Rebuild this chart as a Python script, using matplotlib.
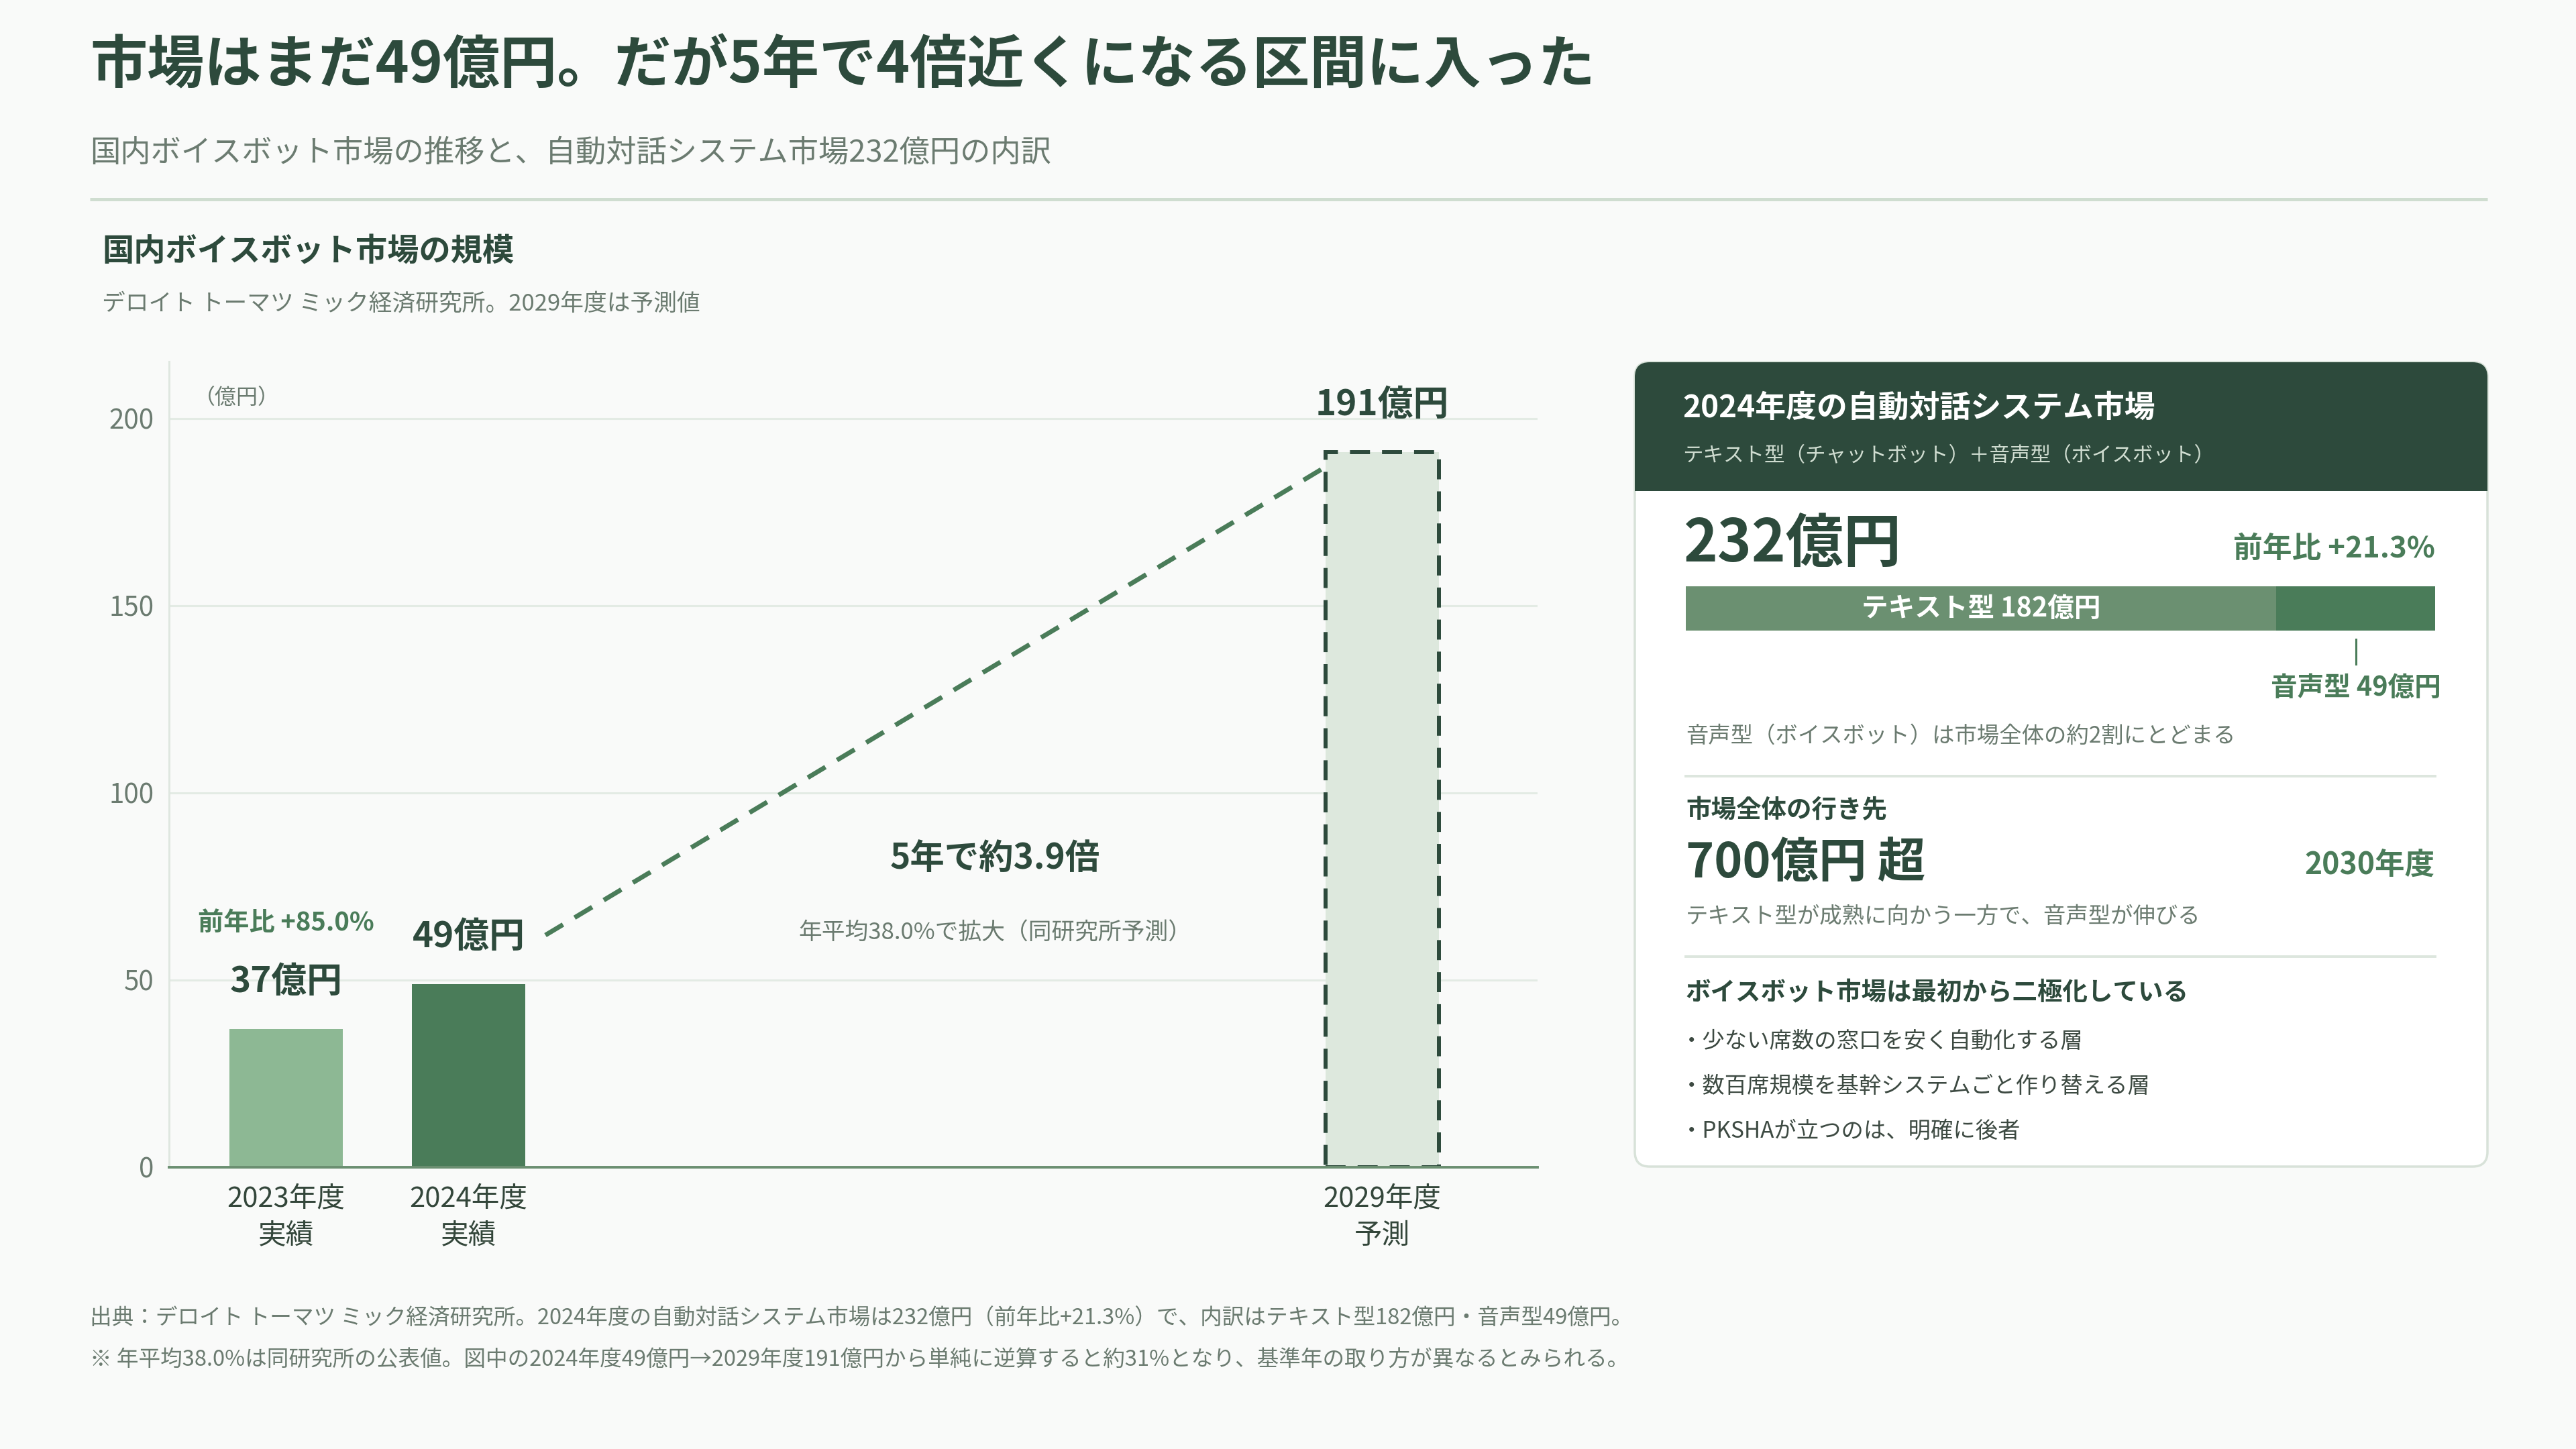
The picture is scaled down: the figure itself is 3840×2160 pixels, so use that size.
import matplotlib
matplotlib.use("Agg")
import matplotlib.pyplot as plt
from matplotlib.patches import FancyBboxPatch, Rectangle

plt.rcParams['font.family'] = ['Noto Sans CJK JP', 'DejaVu Sans']

# データ
years = [2023, 2024, 2029]
values = [37, 49, 191]
status = ['実績', '実績', '予測']
yoy_2024 = '+85.0%'
growth_label = '5年で約3.9倍'
cagr_label = '年平均38.0%で拡大（同研究所予測）'

text_bot = 182
voice_bot = 49
total_2024 = 232
total_yoy = '+21.3%'
future_total = 700
future_year = '2030年度'
bullets = ['・少ない席数の窓口を安く自動化する層',
           '・数百席規模を基幹システムごと作り替える層',
           '・PKSHAが立つのは、明確に後者']

# 色
DARK = '#2d4a3c'
GRAY = '#6b7b70'
GREEN = '#4a7c59'
LIGHT_GREEN = '#8db894'
PALE = '#dde8dd'
MID = '#6b9071'
BG = '#f9faf9'
BULLET = '#3d4a42'

W, H = 3840, 2160
fig = plt.figure(figsize=(W / 100, H / 100), dpi=100, facecolor=BG)

# ピクセル座標のオーバーレイ
ov = fig.add_axes([0, 0, 1, 1], zorder=0)
ov.set_xlim(0, W)
ov.set_ylim(H, 0)
ov.axis('off')
ov.patch.set_alpha(0)

ov.text(134, 98, '市場はまだ49億円。だが5年で4倍近くになる区間に入った',
        fontsize=61.3, fontweight='bold', color=DARK, va='center', ha='left')
ov.text(134, 228, '国内ボイスボット市場の推移と、自動対話システム市場232億円の内訳',
        fontsize=32.6, color=GRAY, va='center', ha='left')
ov.plot([134, 3708], [297, 297], color='#cfddd0', lw=3.6, solid_capstyle='butt')

ov.text(152, 376, '国内ボイスボット市場の規模', fontsize=34, fontweight='bold',
        color=DARK, va='center', ha='left')
ov.text(152, 453, 'デロイト トーマツ ミック経済研究所。2029年度は予測値',
        fontsize=25, color=GRAY, va='center', ha='left')

ov.text(134, 1966, '出典：デロイト トーマツ ミック経済研究所。2024年度の自動対話システム市場は232億円'
        '（前年比+21.3%）で、内訳はテキスト型182億円・音声型49億円。',
        fontsize=23.5, color=GRAY, va='center', ha='left')
ov.text(134, 2028, '※ 年平均38.0%は同研究所の公表値。図中の2024年度49億円→2029年度191億円から'
        '単純に逆算すると約31%となり、基準年の取り方が異なるとみられる。',
        fontsize=23.5, color=GRAY, va='center', ha='left')

# 棒グラフ
ax = fig.add_axes([252 / W, 1 - 1740 / H, 2040 / W, 1201 / H], zorder=2)
ax.patch.set_alpha(0)
bw = 0.62
ax.bar(years[:2], values[:2], width=bw, color=[LIGHT_GREEN, GREEN], zorder=3)
ax.bar(years[2], values[2], width=bw, color=PALE, edgecolor=DARK,
       linestyle=(0, (5, 3)), linewidth=4.3, zorder=3)

ax.set_xlim(2022.36, 2029.85)
ax.set_ylim(0, 215.2)
ax.set_yticks([0, 50, 100, 150, 200])
ax.set_xticks(years)
ax.set_xticklabels([f'{y}年度\n{s}' for y, s in zip(years, status)],
                   linespacing=1.45)
ax.tick_params(axis='y', length=0, pad=16, labelsize=29, labelcolor=GRAY)
ax.tick_params(axis='x', length=0, pad=19, labelsize=30, labelcolor='#33463a')
ax.grid(axis='y', color='#e3ebe4', lw=2.2)
ax.set_axisbelow(True)
for s in ['top', 'right']:
    ax.spines[s].set_visible(False)
ax.spines['left'].set_color('#dfe7e0')
ax.spines['left'].set_linewidth(2.2)
ax.spines['bottom'].set_color('#6b8f71')
ax.spines['bottom'].set_linewidth(2.8)
ax.spines['bottom'].set_zorder(4)

ax.text(0.018, 0.955, '（億円）', transform=ax.transAxes, fontsize=23,
        color=GRAY, va='center', ha='left')

for y, v in zip(years, values):
    ax.text(y, v + 12.6, f'{v}億円', fontsize=38, fontweight='bold',
            color=DARK, ha='center', va='center', zorder=5)
ax.text(years[0], values[0] + 28.4, f'前年比 {yoy_2024}', fontsize=27.5,
        fontweight='bold', color=GREEN, ha='center', va='center')

ax.plot([years[1] + 0.42, years[2] - 0.33], [values[1] + 13, values[2] - 4.5],
        color=GREEN, lw=5, linestyle=(0, (4.4, 2.9)), zorder=4)

ax.text(2026.88, 82.6, growth_label, fontsize=37, fontweight='bold',
        color=DARK, ha='center', va='center')
ax.text(2026.88, 62.5, cagr_label, fontsize=25, color=GRAY,
        ha='center', va='center')

# 右カード
cx0, cx1, cy0, cy1 = 2437, 3708, 540, 1739
card = FancyBboxPatch((cx0, cy0), cx1 - cx0, cy1 - cy0,
                      boxstyle='round,pad=0,rounding_size=22',
                      facecolor='white', edgecolor='#d8e2d9', lw=2.5, zorder=1)
ov.add_patch(card)
head = FancyBboxPatch((cx0, cy0), cx1 - cx0, 190,
                      boxstyle='round,pad=0,rounding_size=22',
                      facecolor=DARK, edgecolor='none', zorder=2)
ov.add_patch(head)
ov.add_patch(Rectangle((cx0, 680), cx1 - cx0, 52, facecolor=DARK,
                       edgecolor='none', zorder=2))

ov.text(2508, 609, '2024年度の自動対話システム市場', fontsize=33, fontweight='bold',
        color='white', va='center', ha='left', zorder=3)
ov.text(2508, 680, 'テキスト型（チャットボット）＋音声型（ボイスボット）', fontsize=22,
        color='#cfdcd0', va='center', ha='left', zorder=3)

ov.text(2510, 813, f'{total_2024}億円', fontsize=62, fontweight='bold',
        color=DARK, va='center', ha='left', zorder=3)
ov.text(3630, 818, f'前年比 {total_yoy}', fontsize=31.5, fontweight='bold',
        color=GREEN, va='center', ha='right', zorder=3)

sb = fig.add_axes([2513 / W, 1 - 940 / H, 1117 / W, 66 / H], zorder=3)
sb.barh(0, text_bot, height=1, color=MID)
sb.barh(0, voice_bot, left=text_bot, height=1, color=GREEN)
sb.set_xlim(0, text_bot + voice_bot)
sb.set_ylim(-0.5, 0.5)
sb.axis('off')
sb.text(text_bot / 2, 0, f'テキスト型 {text_bot}億円', fontsize=28.5,
        fontweight='bold', color='white', ha='center', va='center')
vx = text_bot + voice_bot / 2
sb.plot([vx, vx], [-0.5 - 0.197, -0.5 - 0.758], color=GREEN, lw=2.2,
        clip_on=False)
sb.text(vx, -0.5 - 1.30, f'音声型 {voice_bot}億円', fontsize=28.5,
        fontweight='bold', color=GREEN, ha='center', va='center')

ov.text(2513, 1097, '音声型（ボイスボット）は市場全体の約2割にとどまる', fontsize=24,
        color=GRAY, va='center', ha='left', zorder=3)
ov.plot([2513, 3630], [1157, 1157], color='#dde6de', lw=2.8, zorder=3)

ov.text(2513, 1208, '市場全体の行き先', fontsize=27, fontweight='bold',
        color=DARK, va='center', ha='left', zorder=3)
ov.text(2513, 1287, f'{future_total}億円 超', fontsize=51.5, fontweight='bold',
        color=DARK, va='center', ha='left', zorder=3)
ov.text(3630, 1290, future_year, fontsize=32, fontweight='bold',
        color=GREEN, va='center', ha='right', zorder=3)
ov.text(2513, 1366, 'テキスト型が成熟に向かう一方で、音声型が伸びる', fontsize=24,
        color=GRAY, va='center', ha='left', zorder=3)
ov.plot([2513, 3630], [1426, 1426], color='#dde6de', lw=2.8, zorder=3)

ov.text(2513, 1479, 'ボイスボット市場は最初から二極化している', fontsize=27,
        fontweight='bold', color=DARK, va='center', ha='left', zorder=3)
for i, b in enumerate(bullets):
    ov.text(2505, 1552 + i * 67, b, fontsize=24, color=BULLET,
            va='center', ha='left', zorder=3)

fig.savefig('out.png', dpi=100, facecolor=BG)
